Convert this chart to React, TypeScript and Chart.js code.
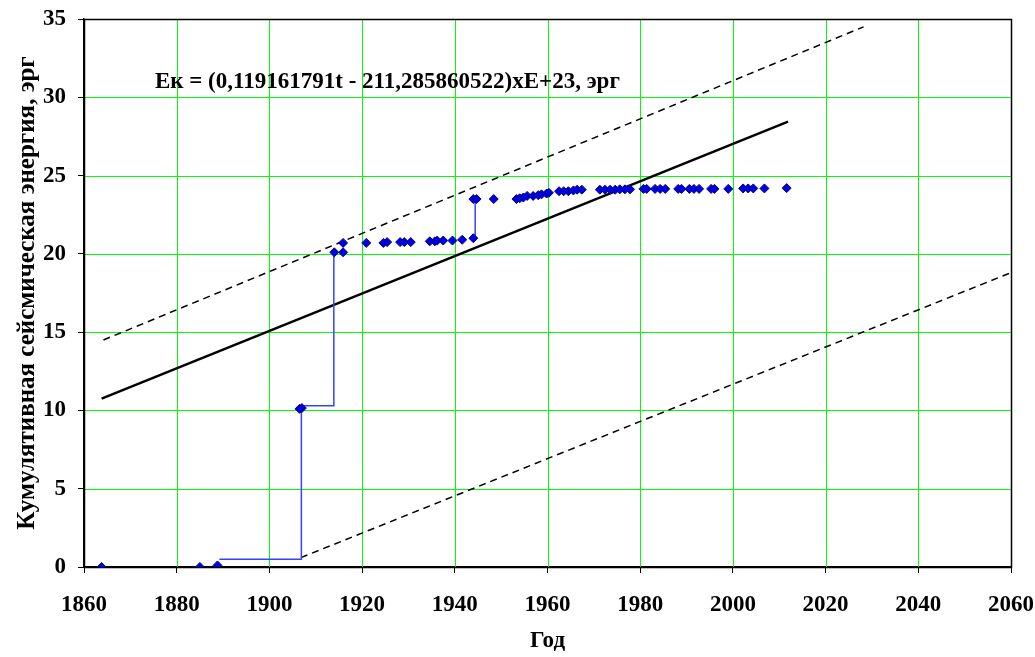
import React, { useEffect, useRef } from "react";
import { Chart, registerables } from "chart.js";

Chart.register(...registerables);

// Observed cumulative energy points (year, value ×E+23 erg)
const pointYears = [
  1863.8, 1885.0, 1888.8, 1906.5, 1907.0, 1914.0, 1915.9, 1915.9, 1920.9, 1924.6,
  1925.4, 1928.2, 1929.1, 1930.5, 1934.6, 1935.7, 1936.2, 1937.5, 1939.5, 1941.6,
  1944.0, 1944.0, 1944.7, 1948.4, 1953.3, 1954.0, 1954.8, 1955.6, 1956.9, 1958.0,
  1958.7, 1959.8, 1960.3, 1962.5, 1963.5, 1964.5, 1965.6, 1966.4, 1967.4, 1971.3,
  1972.4, 1973.5, 1974.6, 1975.6, 1976.7, 1977.8, 1980.7, 1981.4, 1983.2, 1984.3,
  1985.4, 1988.2, 1988.9, 1990.6, 1991.6, 1992.7, 1995.3, 1996.0, 1999.0, 2002.2,
  2003.3, 2004.4, 2006.8, 2011.6,
];
const pointValues = [
  0, 0, 0.1, 10.1, 10.15, 20.1, 20.1, 20.7, 20.7, 20.7,
  20.75, 20.75, 20.75, 20.75, 20.8, 20.8, 20.85, 20.85, 20.85, 20.9,
  21.0, 23.5, 23.5, 23.5, 23.5, 23.55, 23.6, 23.7, 23.7, 23.75,
  23.8, 23.85, 23.9, 24.0, 24.0, 24.0, 24.05, 24.1, 24.1, 24.1,
  24.1, 24.1, 24.1, 24.12, 24.12, 24.12, 24.15, 24.15, 24.15, 24.15,
  24.15, 24.15, 24.15, 24.15, 24.15, 24.15, 24.15, 24.15, 24.15, 24.18,
  24.18, 24.18, 24.18, 24.2,
];

// Blue step line (null = gap)
const stepYears = [1889.2, 1906.9, 1906.9, 1913.9, 1913.9, null, 1944.4, 1944.4];
const stepValues = [0.5, 0.5, 10.3, 10.3, 20.1, null, 21.0, 23.5];

// Regression line and its bounds
const trendYears = [1863.8, 2011.9];
const trendValues = [10.75, 28.45];
const upperYears = [1864.2, 2028.2];
const upperValues = [14.5, 34.5];
const lowerYears = [1906.8, 2060];
const lowerValues = [0.6, 18.8];

const xTickValues = [1860, 1880, 1900, 1920, 1940, 1960, 1980, 2000, 2020, 2040, 2060];
const yTickValues = [0, 5, 10, 15, 20, 25, 30, 35];

const formulaText = "Ек = (0,119161791t - 211,285860522)xE+23, эрг";
const formulaYear = 1875.3;
const formulaValue = 31.0;
const xTitle = "Год";
const yTitle = "Кумулятивная сейсмическая энергия, эрг";

const FONT = '"Liberation Serif", "Times New Roman", serif';

function pairs(xs: (number | null)[], ys: (number | null)[]) {
  return xs.map((x, i) => (x === null || ys[i] === null ? { x: NaN, y: NaN } : { x, y: ys[i] as number }));
}

export default function App() {
  const ref = useRef<HTMLCanvasElement | null>(null);

  useEffect(() => {
    if (!ref.current) return;

    const framePlugin = {
      id: "frame",
      beforeDatasetsDraw(chart: any) {
        const { ctx, chartArea, scales } = chart;
        const { left, right, top, bottom } = chartArea;
        ctx.save();
        // green grid lines, crisp
        ctx.strokeStyle = "#00FF00";
        ctx.lineWidth = 1;
        ctx.beginPath();
        xTickValues.forEach((v) => {
          const px = Math.round(scales.x.getPixelForValue(v)) + 0.5;
          ctx.moveTo(px, top);
          ctx.lineTo(px, bottom);
        });
        yTickValues.forEach((v) => {
          const py = Math.round(scales.y.getPixelForValue(v)) + 0.5;
          ctx.moveTo(left, py);
          ctx.lineTo(right, py);
        });
        ctx.stroke();
        // black frame
        ctx.strokeStyle = "#000";
        ctx.lineWidth = 1.5;
        ctx.strokeRect(Math.round(left) + 0.5, Math.round(top) + 0.5, Math.round(right - left), Math.round(bottom - top));
        ctx.restore();
      },
      afterDatasetsDraw(chart: any) {
        const { ctx, scales } = chart;
        ctx.save();
        ctx.fillStyle = "#000";
        ctx.font = `bold 23px ${FONT}`;
        ctx.textBaseline = "middle";
        ctx.textAlign = "left";
        ctx.fillText(formulaText, scales.x.getPixelForValue(formulaYear), scales.y.getPixelForValue(formulaValue));
        ctx.restore();
      },
    };

    const chart = new Chart(ref.current, {
      type: "scatter",
      data: {
        datasets: [
          {
            label: "points",
            data: pointYears.map((x, i) => ({ x, y: pointValues[i] })),
            showLine: false,
            pointStyle: "rectRot",
            pointRadius: 4.5,
            backgroundColor: "#0000E0",
            borderColor: "#00008B",
            borderWidth: 1,
            order: 0,
          },
          {
            label: "step",
            data: pairs(stepYears, stepValues),
            showLine: true,
            spanGaps: false,
            pointRadius: 0,
            borderColor: "#3344FF",
            borderWidth: 1.5,
            order: 1,
          },
          {
            label: "trend",
            data: pairs(trendYears, trendValues),
            showLine: true,
            pointRadius: 0,
            borderColor: "#000",
            borderWidth: 2.5,
            order: 2,
          },
          {
            label: "upper",
            data: pairs(upperYears, upperValues),
            showLine: true,
            pointRadius: 0,
            borderColor: "#000",
            borderWidth: 1.5,
            borderDash: [7, 5],
            order: 3,
          },
          {
            label: "lower",
            data: pairs(lowerYears, lowerValues),
            showLine: true,
            pointRadius: 0,
            borderColor: "#000",
            borderWidth: 1.5,
            borderDash: [7, 5],
            order: 3,
          },
        ],
      },
      options: {
        animation: false,
        responsive: false,
        devicePixelRatio: 1,
        layout: { padding: { left: 0, top: 19, right: 24, bottom: 0 } },
        plugins: {
          legend: { display: false },
          tooltip: { enabled: false },
        },
        scales: {
          x: {
            type: "linear",
            min: 1860,
            max: 2060,
            afterBuildTicks: (s: any) => {
              s.ticks = xTickValues.map((v) => ({ value: v }));
            },
            afterFit: (s: any) => {
              s.height = 90;
              s.paddingLeft = 0;
              s.paddingRight = 0;
            },
            ticks: {
              color: "#000",
              font: { family: FONT, size: 23, weight: "bold" },
              padding: 18,
              maxRotation: 0,
              autoSkip: false,
              callback: (v: any) => String(v),
            },
            grid: {
              drawOnChartArea: false,
              tickColor: "#000",
              tickLength: 6,
              drawTicks: true,
            },
            border: { display: true, color: "#000", width: 1.5 },
            title: {
              display: true,
              text: xTitle,
              color: "#000",
              font: { family: FONT, size: 23, weight: "bold" },
              padding: { top: 0, bottom: 2 },
            },
          },
          y: {
            type: "linear",
            min: 0,
            max: 35,
            afterBuildTicks: (s: any) => {
              s.ticks = yTickValues.map((v) => ({ value: v }));
            },
            afterFit: (s: any) => {
              s.width = 84;
              s.paddingTop = 0;
              s.paddingBottom = 0;
            },
            ticks: {
              color: "#000",
              font: { family: FONT, size: 23, weight: "bold" },
              padding: 12,
              autoSkip: false,
              callback: (v: any) => String(v),
            },
            grid: {
              drawOnChartArea: false,
              tickColor: "#000",
              tickLength: 6,
              drawTicks: true,
            },
            border: { display: true, color: "#000", width: 1.5 },
            title: {
              display: true,
              text: yTitle,
              color: "#000",
              font: { family: FONT, size: 25, weight: "bold" },
              padding: { top: 13, bottom: 0 },
            },
          },
        },
      },
      plugins: [framePlugin],
    } as any);

    return () => chart.destroy();
  }, []);

  return (
    <div style={{ position: "absolute", left: 0, top: 0, width: 1035, height: 657, background: "#fff" }}>
      <canvas ref={ref} width={1035} height={657} style={{ display: "block", width: 1035, height: 657 }} />
    </div>
  );
}
